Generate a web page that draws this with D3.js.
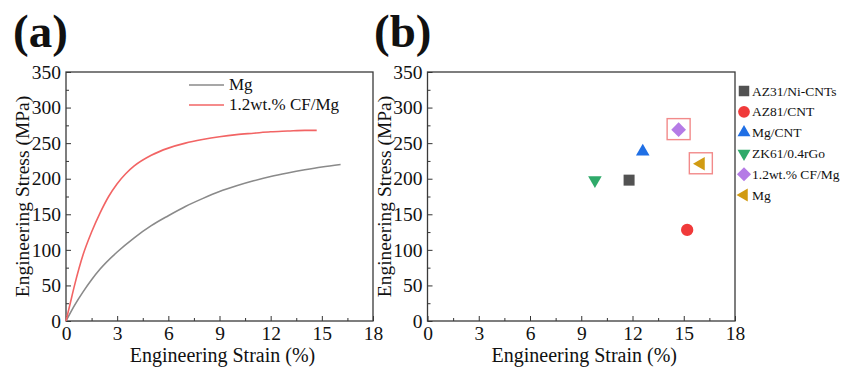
<!DOCTYPE html>
<html>
<head>
<meta charset="utf-8">
<script src="https://cdn.jsdelivr.net/npm/d3@7"></script>
<style>
  body { margin: 0; background: #fff; }
  svg text { font-family: "Liberation Serif", serif; fill: #111; }
</style>
</head>
<body>
<div id="chart"></div>
<script>
// Panel (a): stress-strain curves, [strain %, stress MPa]
const mgCurve = [[0,0],[0.5,22],[1,41],[1.5,58],[2,73],[3,97],[4,117],[5,134],[6,148],[7,161],[8,172],
  [9,182],[10,190],[11,197],[12,203],[13,208],[14,212.5],[15,216.5],[16.1,220]];
const cfCurve = [[0,0],[0.25,25],[0.5,50],[1,93],[1.5,125],[2,152],[2.5,175],[3,193],[3.5,207],[4,218],
  [5,233],[6,243],[7,250],[8,255],[9,259],[10,262],[11,264],[12,266],[13,267],[14,268],[14.7,268]];
const curveNames = ["Mg", "1.2wt.% CF/Mg"];
const curveColors = ["#8a8a8a", "#f26464"];

// Panel (b): comparison points
const materials = ["AZ31/Ni-CNTs", "AZ81/CNT", "Mg/CNT", "ZK61/0.4rGo", "1.2wt.% CF/Mg", "Mg"];
const strains = [11.8, 15.2, 12.6, 9.8, 14.7, 16.0];
const stresses = [198, 128, 238, 198, 269, 221];
const pointColors = ["#525252", "#f03a3a", "#1f6fe5", "#2faa6a", "#b57be6", "#d19b12"];
const highlighted = ["1.2wt.% CF/Mg", "Mg"];

const xTicks = [0, 3, 6, 9, 12, 15, 18];
const yTicks = [0, 50, 100, 150, 200, 250, 300, 350];

const width = 842, height = 374;
const serif = "'Liberation Serif', serif";
const svg = d3.select("#chart").append("svg")
  .attr("width", width).attr("height", height);

function symbolPath(i, s) {
  if (i === 0) return {d: d3.symbol(d3.symbolSquare, s * s)(), rot: 0};
  if (i === 1) return {d: d3.symbol(d3.symbolCircle, Math.PI * (s * 0.56) * (s * 0.56))(), rot: 0};
  if (i === 2) return {d: d3.symbol(d3.symbolTriangle, s * s * 0.66)(), rot: 0};
  if (i === 3) return {d: d3.symbol(d3.symbolTriangle, s * s * 0.66)(), rot: 180};
  if (i === 4) return {d: d3.symbol(d3.symbolSquare, s * s * 0.9)(), rot: 45};
  return {d: d3.symbol(d3.symbolTriangle, s * s * 0.66)(), rot: -90};
}

function drawFrame(left, right, label, labelX, titleX) {
  const top = 72, bottom = 321;
  const x = d3.scaleLinear().domain([0, 18]).range([left, right]);
  const y = d3.scaleLinear().domain([0, 350]).range([bottom, top]);

  // minor ticks
  svg.append("g").attr("transform", `translate(0,${bottom})`)
    .call(d3.axisBottom(x).tickValues(d3.range(1.5, 18, 3)).tickSize(-3).tickFormat(""))
    .call(g => g.select(".domain").remove())
    .call(g => g.selectAll("line").attr("stroke", "#333"));
  svg.append("g").attr("transform", `translate(${left},0)`)
    .call(d3.axisLeft(y).tickValues(d3.range(25, 350, 50)).tickSize(-3).tickFormat(""))
    .call(g => g.select(".domain").remove())
    .call(g => g.selectAll("line").attr("stroke", "#333"));

  // major ticks
  svg.append("g").attr("transform", `translate(0,${bottom})`)
    .call(d3.axisBottom(x).tickValues(xTicks).tickSize(-5).tickPadding(5))
    .call(g => g.select(".domain").remove())
    .call(g => g.selectAll("line").attr("stroke", "#333"))
    .call(g => g.selectAll("text").attr("font-size", "19.5px")
      .attr("font-family", serif).attr("fill", "#111"));
  svg.append("g").attr("transform", `translate(${left},0)`)
    .call(d3.axisLeft(y).tickValues(yTicks).tickSize(-5).tickPadding(5))
    .call(g => g.select(".domain").remove())
    .call(g => g.selectAll("line").attr("stroke", "#333"))
    .call(g => g.selectAll("text").attr("font-size", "19.5px")
      .attr("font-family", serif).attr("fill", "#111"));

  svg.append("rect")
    .attr("x", left).attr("y", top)
    .attr("width", right - left).attr("height", bottom - top)
    .attr("fill", "none").attr("stroke", "#3a3a3a").attr("stroke-width", 1.3);

  svg.append("text")
    .attr("x", (left + right) / 2 + 3).attr("y", 362)
    .attr("text-anchor", "middle").attr("font-size", "20px")
    .text("Engineering Strain (%)");

  svg.append("text")
    .attr("transform", `translate(${titleX},${(top + bottom) / 2}) rotate(-90)`)
    .attr("text-anchor", "middle").attr("font-size", "19.5px")
    .text("Engineering Stress (MPa)");

  svg.append("text")
    .attr("x", labelX).attr("y", 47)
    .attr("font-size", "47px").attr("font-weight", "bold")
    .text(label);

  return {x, y};
}

// ---- Panel (a)
const a = drawFrame(66, 373, "(a)", 13, 29);
const line = d3.line().x(d => a.x(d[0])).y(d => a.y(d[1])).curve(d3.curveMonotoneX);
[mgCurve, cfCurve].forEach((c, i) => {
  svg.append("path")
    .attr("d", line(c))
    .attr("fill", "none")
    .attr("stroke", curveColors[i])
    .attr("stroke-width", 1.6);
});

// legend (a)
curveNames.forEach((name, i) => {
  const ly = 85 + i * 20;
  svg.append("line")
    .attr("x1", 189).attr("x2", 224).attr("y1", ly).attr("y2", ly)
    .attr("stroke", curveColors[i]).attr("stroke-width", 1.6);
  svg.append("text")
    .attr("x", 229).attr("y", ly + 5)
    .attr("font-size", "17px")
    .text(name);
});

// ---- Panel (b)
const b = drawFrame(427.5, 735, "(b)", 374, 391);

materials.forEach((m, i) => {
  const cx = b.x(strains[i]), cy = b.y(stresses[i]);
  if (highlighted.includes(m)) {
    svg.append("rect")
      .attr("x", cx - 11.5).attr("y", cy - 11)
      .attr("width", 23).attr("height", 21)
      .attr("fill", "none").attr("stroke", "#f28a8a").attr("stroke-width", 1.4);
  }
  const sp = symbolPath(i, 11);
  svg.append("path")
    .attr("d", sp.d)
    .attr("transform", `translate(${cx},${cy}) rotate(${sp.rot})`)
    .attr("fill", pointColors[i]);
});

// legend (b)
materials.forEach((m, i) => {
  const ly = 91 + i * 20.8;
  const sp = symbolPath(i, 10.5);
  svg.append("path")
    .attr("d", sp.d)
    .attr("transform", `translate(744,${ly}) rotate(${sp.rot})`)
    .attr("fill", pointColors[i]);
  svg.append("text")
    .attr("x", 752).attr("y", ly + 4.5)
    .attr("font-size", "13.5px")
    .text(m);
});
</script>
</body>
</html>
